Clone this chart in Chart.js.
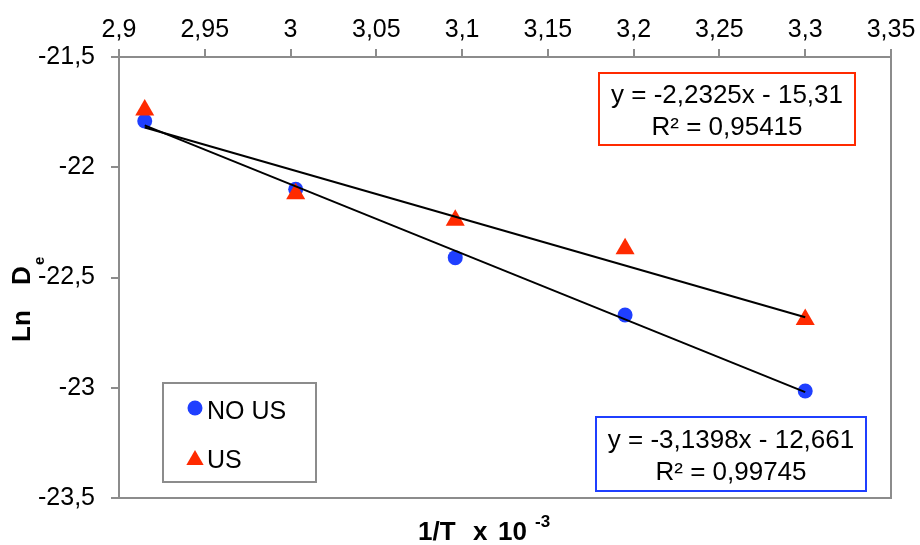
<!DOCTYPE html>
<html>
<head>
<meta charset="utf-8">
<script src="https://cdn.jsdelivr.net/npm/chart.js@4.4.1/dist/chart.umd.min.js"></script>
<style>
  html, body { margin: 0; padding: 0; background: #fff; }
  #wrap { width: 920px; height: 545px; }
</style>
</head>
<body>
<div id="wrap"><canvas id="arrheniusChart"></canvas></div>
<script>
// Data
const inverseT = [2.915, 3.003, 3.096, 3.195, 3.300];      // 1/T x 10^-3
const lnDeNoUs = [-21.79, -22.10, -22.41, -22.67, -23.015];
const lnDeUs = [-21.74, -22.12, -22.24, -22.37, -22.69];
const trendX = [2.915, 3.300];
const trendNoUs = [-21.81, -23.02];
const trendUs = [-21.82, -22.68];
const seriesNames = ['NO US', 'US'];
const eqNoUs = ['y = -3,1398x - 12,661', 'R² = 0,99745'];
const eqUs = ['y = -2,2325x - 15,31', 'R² = 0,95415'];
const xRange = [2.9, 3.35, 0.05];
const yRange = [-23.5, -21.5, 0.5];

const BLUE = '#1f3fff';
const RED = '#ff2a00';
const AXIS_GREY = '#8c8c8c';
const FONT = "'Liberation Sans', Arial, sans-serif";

const toPoints = (xs, ys) => xs.map((x, i) => ({ x: x, y: ys[i] }));
const commaLabel = v => String(Math.round(v * 100) / 100).replace('.', ',');

// Draws frame, legend, trendline equations and axis titles
const decorations = {
    id: 'decorations',
    beforeDatasetsDraw(chart) {
        const { ctx, chartArea: a } = chart;
        ctx.save();
        ctx.strokeStyle = AXIS_GREY;
        ctx.lineWidth = 2;
        ctx.strokeRect(a.left, a.top, a.right - a.left, a.bottom - a.top);
        ctx.restore();
    },
    afterDraw(chart) {
        const { ctx, chartArea: a } = chart;
        ctx.save();

        // legend box
        const lx = a.left + 44, ly = a.top + 326;
        ctx.fillStyle = '#fff';
        ctx.fillRect(lx, ly, 153, 99);
        ctx.strokeStyle = AXIS_GREY;
        ctx.lineWidth = 2;
        ctx.strokeRect(lx, ly, 153, 99);
        ctx.fillStyle = BLUE;
        ctx.strokeStyle = BLUE;
        Chart.helpers.drawPoint(ctx, { pointStyle: 'circle', radius: 7.5, borderWidth: 0 }, lx + 32, ly + 25);
        ctx.fillStyle = RED;
        ctx.strokeStyle = RED;
        Chart.helpers.drawPoint(ctx, { pointStyle: 'triangle', radius: 10, borderWidth: 0 }, lx + 32, ly + 77);
        ctx.fillStyle = '#000';
        ctx.font = '25px ' + FONT;
        ctx.textAlign = 'left';
        ctx.textBaseline = 'alphabetic';
        ctx.fillText(seriesNames[0], lx + 44, ly + 36);
        ctx.fillText(seriesNames[1], lx + 44, ly + 85);

        // equation boxes
        const eqBox = (lines, color, x, y, w, h, b1, b2) => {
            ctx.fillStyle = '#fff';
            ctx.fillRect(x, y, w, h);
            ctx.strokeStyle = color;
            ctx.lineWidth = 2;
            ctx.strokeRect(x, y, w, h);
            ctx.fillStyle = '#000';
            ctx.font = '26px ' + FONT;
            ctx.textAlign = 'center';
            ctx.fillText(lines[0], x + w / 2, y + b1);
            ctx.fillText(lines[1], x + w / 2, y + b2);
        };
        eqBox(eqUs, RED, a.right - 292, a.top + 16, 256, 72, 30, 62);
        eqBox(eqNoUs, BLUE, a.right - 295, a.top + 360, 270, 74, 31, 63);

        // x axis title: 1/T x 10^-3
        ctx.fillStyle = '#000';
        ctx.textAlign = 'left';
        ctx.font = 'bold 26px ' + FONT;
        const tb = a.bottom + 42;
        ctx.fillText('1/T', 418, tb);
        ctx.fillText('x', 473, tb);
        ctx.fillText('10', 498, tb);
        ctx.font = 'bold 17px ' + FONT;
        ctx.fillText('-3', 535, tb - 13);

        // y axis title: Ln De
        ctx.translate(30, 342);
        ctx.rotate(-Math.PI / 2);
        ctx.font = 'bold 26px ' + FONT;
        ctx.fillText('Ln', 0, 0);
        ctx.fillText('D', 57, 0);
        ctx.font = 'bold 15px ' + FONT;
        ctx.fillText('e', 77, 14);
        ctx.restore();
    }
};

const tickFont = { family: FONT, size: 25 };

new Chart(document.getElementById('arrheniusChart'), {
    type: 'scatter',
    data: {
        datasets: [{
            label: 'NO US trend',
            data: toPoints(trendX, trendNoUs),
            showLine: true,
            borderColor: '#000',
            borderWidth: 2,
            pointRadius: 0
        }, {
            label: 'US trend',
            data: toPoints(trendX, trendUs),
            showLine: true,
            borderColor: '#000',
            borderWidth: 2,
            pointRadius: 0
        }, {
            label: seriesNames[1],
            data: toPoints(inverseT, lnDeUs),
            pointStyle: 'triangle',
            pointRadius: 11,
            backgroundColor: RED,
            borderColor: RED,
            borderWidth: 0
        }, {
            label: seriesNames[0],
            data: toPoints(inverseT, lnDeNoUs),
            pointStyle: 'circle',
            pointRadius: 7.5,
            backgroundColor: BLUE,
            borderColor: BLUE,
            borderWidth: 0
        }]
    },
    options: {
        responsive: true,
        maintainAspectRatio: false,
        animation: false,
        clip: false,
        layout: { padding: { left: 0, top: 0, right: 29, bottom: 47 } },
        plugins: {
            legend: { display: false },
            tooltip: { enabled: false }
        },
        scales: {
            x: {
                type: 'linear',
                position: 'top',
                min: xRange[0],
                max: xRange[1],
                afterFit: s => { s.height = 57; },
                ticks: {
                    stepSize: xRange[2],
                    font: tickFont,
                    color: '#000',
                    padding: 4,
                    maxRotation: 0,
                    autoSkip: false,
                    callback: commaLabel
                },
                grid: { drawOnChartArea: false, tickLength: 8, color: AXIS_GREY, lineWidth: 2 },
                border: { color: AXIS_GREY, width: 2 }
            },
            y: {
                type: 'linear',
                min: yRange[0],
                max: yRange[1],
                afterFit: s => { s.width = 119; },
                ticks: {
                    stepSize: yRange[2],
                    font: tickFont,
                    color: '#000',
                    padding: 16,
                    callback: commaLabel
                },
                grid: { drawOnChartArea: false, tickLength: 8, color: AXIS_GREY, lineWidth: 2 },
                border: { color: AXIS_GREY, width: 2 }
            }
        }
    },
    plugins: [decorations]
});
</script>
</body>
</html>
